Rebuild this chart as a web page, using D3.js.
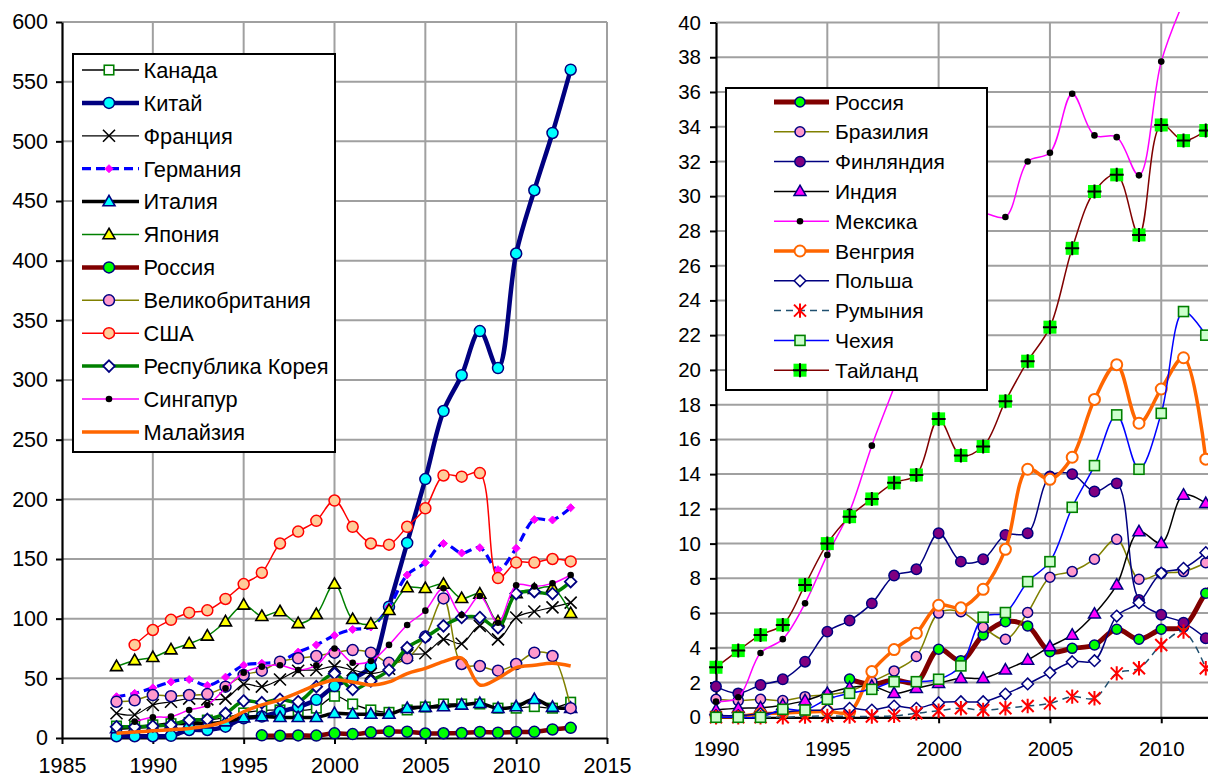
<!DOCTYPE html>
<html><head><meta charset="utf-8">
<script src="https://cdn.jsdelivr.net/npm/d3@7"></script>
<style>body{margin:0;background:#fff}svg{display:block}text{font-family:"Liberation Sans",Arial,sans-serif;fill:#000}</style>
</head><body><svg id="c" width="1208" height="778"></svg>
<script>
// ---------- DATA: left chart (1988-2013) ----------
const yearsL = [1988,1989,1990,1991,1992,1993,1994,1995,1996,1997,1998,1999,2000,2001,2002,2003,2004,2005,2006,2007,2008,2009,2010,2011,2012,2013];
const canada   = [10,10,11,12,13,15,17,21,23,23.5,23,25,35,28.5,23.5,21.5,23.5,26,28.5,28.5,28.5,25,25,26.3,25,30];
const china    = [1.5,1.5,1.5,1.8,6.7,6.7,9.5,16.5,18,22,26,32,43.5,50,60,110,163.5,217,274,304,341,310,406,459,507,560];
const france   = [20.7,19.5,27.7,30.4,33,32.4,33,45,43,49,56.4,57,60,57,54,58,69.5,71,82.7,79,94,82.7,101,106,109.5,113.4];
const germany  = [34.6,37.4,42,47,49,44,51,61,62.6,64,72,78,86,91,93,110,136.6,147,163,155,159.5,141,159,183,182.7,193];
const italy    = [8,9,10,12,12,12,13.7,17,18,17.3,17.3,17.3,20.7,20,20,20,24.9,25.8,26.3,27.7,29,24.9,26.3,32.4,25.8,25];
const japan    = [60,65,67.6,74,79,85.5,97.5,111.5,102,106,96,103.6,129,99.4,95.5,107,126,125.4,129,117,120.7,97.5,121,124.6,126,104.5];
const russia   = [null,null,null,null,null,null,null,null,2.2,1.9,2.15,2.0,3.92,3.26,4.74,5.5,5.26,3.78,3.97,4.16,5.07,4.49,5.07,5.2,7.14,8.5];
const uk       = [30.4,31.6,36,35,36,36.8,43,52.8,56.4,64,66.8,68.7,71.5,73.7,71.5,63,66.8,85,117,62,60.3,56.4,62,71.5,68.7,25];
const usa      = [null,78,90.5,99,105,107,116.5,129,138.5,163,173,182,199,177,163,162,177,192.5,220,219,222,134,147,147,150,148];
const korea    = [9.4,9.4,10,11,15,15.6,20.7,31,29.6,32.4,30.4,43,54,40.8,47.8,57,75.7,84.4,94,101,101,92.5,121,122.6,121,131];
const singapore= [null,13.7,17.3,17.9,23.4,27.6,41.6,54.7,59.8,61,57,61,75,63,64.5,78,94.7,106.7,125.4,103,119,96.6,128,127,129.6,136.6];
const malaysia = [4,5,6,7,8,10,14,22,27.7,32,38,44.4,48.6,47,44.4,47,54,58.4,64,67,44.4,50,59,61,62.6,60.3];
const yTicksL = [0,50,100,150,200,250,300,350,400,450,500,550,600];
const xTicksL = [1985,1990,1995,2000,2005,2010,2015];

// ---------- DATA: right chart (1990-2012) ----------
const yearsR = [1990,1991,1992,1993,1994,1995,1996,1997,1998,1999,2000,2001,2002,2003,2004,2005,2006,2007,2008,2009,2010,2011,2012];
const brazil   = [1.04,0.96,1.04,0.96,1.19,1.3,1.5,2.05,2.67,3.5,6.0,6.08,5.18,4.49,6.03,8.06,8.39,9.1,10.25,7.95,8.3,8.39,8.9];
const finland  = [1.77,1.38,1.86,2.19,3.2,4.93,5.57,6.56,8.16,8.52,10.6,8.96,9.1,10.5,10.6,13.86,14.0,13.0,13.47,6.76,5.9,5.45,4.55];
const india    = [0.42,0.52,0.55,0.7,0.96,1.38,1.7,1.8,1.38,1.67,1.96,2.25,2.25,2.73,3.3,4.07,4.74,5.95,7.62,10.69,10.02,12.8,12.32];
const mexico   = [0.9,1.15,3.7,4.5,6.56,9.35,11.85,15.64,19,22.5,26.5,28.5,29,28.8,32.0,32.5,35.9,33.5,33.4,31.2,37.75,41.2,44];
const hungary  = [0.05,0.05,0.2,0.25,0.3,0.35,0.3,2.63,3.9,4.84,6.45,6.3,7.37,9.67,14.28,13.7,14.97,18.3,20.3,16.93,18.9,20.7,14.86];
const poland   = [0.1,0.1,0.2,0.3,0.4,0.42,0.52,0.42,0.65,0.52,0.84,0.9,0.9,1.34,1.92,2.57,3.2,3.26,5.83,6.6,8.3,8.58,9.48];
const romania  = [0,0,0,0,0.05,0.08,0.05,0.05,0.08,0.23,0.38,0.52,0.42,0.52,0.65,0.8,1.19,1.1,2.53,2.82,4.16,4.93,2.82];
const czech    = [0,0,0,0.46,0.42,1.04,1.38,1.61,2.05,2.05,2.19,2.96,5.76,6.03,7.81,8.96,12.09,14.49,17.41,14.28,17.5,23.36,22.0];
const thailand = [2.88,3.84,4.74,5.32,7.62,10.0,11.55,12.57,13.5,13.95,17.18,15.07,15.59,18.2,20.5,22.46,27.0,30.27,31.23,27.77,34.1,33.2,33.78];
const yTicksR = [0,2,4,6,8,10,12,14,16,18,20,22,24,26,28,30,32,34,36,38,40];
const xTicksR = [1990,1995,2000,2005,2010];

// ---------- STYLES ----------
const NAVY='#000080';
const leftSeries = [
 {name:'Канада', years:yearsL, values:canada, color:'#000', width:1.3, marker:{type:'square', s:9.5, fill:'#fff', stroke:'#008000', sw:1.6}},
 {name:'Китай', years:yearsL, values:china, color:NAVY, width:4.5, marker:{type:'circle', r:5.5, fill:'#00ffff', stroke:NAVY, sw:1.5}},
 {name:'Франция', years:yearsL, values:france, color:'#000', width:1.2, marker:{type:'x', s:6, stroke:'#000', sw:1.6}},
 {name:'Германия', years:yearsL, values:germany, color:'#0000ff', width:3.2, dash:'9,5', marker:{type:'diamond', s:4, fill:'#ff00ff', stroke:'#ff00ff', sw:1}},
 {name:'Италия', years:yearsL, values:italy, color:'#000', width:3.5, marker:{type:'triangle', s:12, fill:'#00ffff', stroke:NAVY, sw:1.6}},
 {name:'Япония', years:yearsL, values:japan, color:'#008000', width:1.5, marker:{type:'triangle', s:12, fill:'#ffff00', stroke:'#000', sw:1.6}},
 {name:'Россия', years:yearsL, values:russia, color:'#800000', width:4.5, marker:{type:'circle', r:5.5, fill:'#00ff00', stroke:NAVY, sw:1.5}},
 {name:'Великобритания', years:yearsL, values:uk, color:'#808000', width:1.5, marker:{type:'circle', r:5.5, fill:'#ff99cc', stroke:NAVY, sw:1.5}},
 {name:'США', years:yearsL, values:usa, color:'#ff0000', width:1.5, marker:{type:'circle', r:5.5, fill:'#ffcc99', stroke:'#ff0000', sw:1.5}},
 {name:'Республика Корея', years:yearsL, values:korea, color:'#008000', width:3.5, marker:{type:'diamond', s:5.8, fill:'#fff', stroke:NAVY, sw:1.8}},
 {name:'Сингапур', years:yearsL, values:singapore, color:'#ff00ff', width:1.5, marker:{type:'dot', r:3.3, fill:'#000'}},
 {name:'Малайзия', years:yearsL, values:malaysia, color:'#ff6600', width:3.5, marker:null}
];
const rightSeries = [
 {name:'Россия', years:yearsL, values:russia, color:'#800000', width:5, marker:{type:'circle', r:5, fill:'#00ff00', stroke:NAVY, sw:1.5}},
 {name:'Бразилия', years:yearsR, values:brazil, color:'#808000', width:1.5, marker:{type:'circle', r:5, fill:'#ff99cc', stroke:NAVY, sw:1.5}},
 {name:'Финляндия', years:yearsR, values:finland, color:NAVY, width:1.5, marker:{type:'circle', r:5.2, fill:'#800080', stroke:NAVY, sw:1.5}},
 {name:'Индия', years:yearsR, values:india, color:'#000', width:1.5, marker:{type:'triangle', s:12, fill:'#ff00ff', stroke:NAVY, sw:1.5}},
 {name:'Мексика', years:yearsR, values:mexico, color:'#ff00ff', width:1.5, marker:{type:'dot', r:3.3, fill:'#000'}},
 {name:'Венгрия', years:yearsR, values:hungary, color:'#ff6600', width:3.5, marker:{type:'circle', r:5.5, fill:'#fff', stroke:'#ff6600', sw:2}},
 {name:'Польша', years:yearsR, values:poland, color:NAVY, width:1.5, marker:{type:'diamond', s:5.8, fill:'#fff', stroke:NAVY, sw:1.5}},
 {name:'Румыния', years:yearsR, values:romania, color:'#1f4f6f', width:1.5, dash:'7,5', marker:{type:'star', s:6, stroke:'#ff0000', sw:2}},
 {name:'Чехия', years:yearsR, values:czech, color:'#0000ff', width:1.5, marker:{type:'square', s:10, fill:'#ccffcc', stroke:'#008000', sw:1.6}},
 {name:'Тайланд', years:yearsR, values:thailand, color:'#800000', width:1.5, marker:{type:'plusSquare', s:13, fill:'#00ff00', stroke:'#000', sw:2}}
];

const svg = d3.select('#c');
const GRID='#a0a0a0';

function drawMarker(g, m, x, y){
  if(!m) return;
  const t=m.type;
  if(t==='circle'||t==='dot'){
    g.append('circle').attr('cx',x).attr('cy',y).attr('r',m.r).attr('fill',m.fill)
     .attr('stroke',m.stroke||'none').attr('stroke-width',m.sw||0);
  } else if(t==='square'){
    g.append('rect').attr('x',x-m.s/2).attr('y',y-m.s/2).attr('width',m.s).attr('height',m.s)
     .attr('fill',m.fill).attr('stroke',m.stroke).attr('stroke-width',m.sw);
  } else if(t==='plusSquare'){
    g.append('rect').attr('x',x-m.s/2).attr('y',y-m.s/2).attr('width',m.s).attr('height',m.s).attr('fill',m.fill);
    const a=m.s/2+0.5;
    g.append('path').attr('d',`M${x-a},${y}L${x+a},${y}M${x},${y-a}L${x},${y+a}`).attr('stroke',m.stroke).attr('stroke-width',m.sw);
  } else if(t==='triangle'){
    const s=m.s, h=s*0.87;
    g.append('path').attr('d',`M${x},${y-h*0.6}L${x+s/2},${y+h*0.4}L${x-s/2},${y+h*0.4}Z`)
     .attr('fill',m.fill).attr('stroke',m.stroke).attr('stroke-width',m.sw).attr('stroke-linejoin','miter');
  } else if(t==='diamond'){
    const s=m.s;
    g.append('path').attr('d',`M${x},${y-s}L${x+s},${y}L${x},${y+s}L${x-s},${y}Z`)
     .attr('fill',m.fill).attr('stroke',m.stroke).attr('stroke-width',m.sw);
  } else if(t==='x'){
    const s=m.s;
    g.append('path').attr('d',`M${x-s},${y-s}L${x+s},${y+s}M${x-s},${y+s}L${x+s},${y-s}`)
     .attr('stroke',m.stroke).attr('stroke-width',m.sw).attr('fill','none');
  } else if(t==='star'){
    const s=m.s;
    g.append('path').attr('d',`M${x-s},${y-s}L${x+s},${y+s}M${x-s},${y+s}L${x+s},${y-s}M${x},${y-s*1.2}L${x},${y+s*1.2}`)
     .attr('stroke',m.stroke).attr('stroke-width',m.sw).attr('fill','none');
  }
}

function drawSeries(g, s, x, y){
  const pts = s.years.map((yr,i)=>[yr, s.values[i]]).filter(d=>d[1]!=null);
  const line = d3.line().x(d=>x(d[0])).y(d=>y(d[1])).curve(d3.curveCatmullRom.alpha(0.5));
  g.append('path').attr('d',line(pts)).attr('fill','none').attr('stroke',s.color)
   .attr('stroke-width',s.width).attr('stroke-dasharray',s.dash||null).attr('stroke-linejoin','round');
  pts.forEach(d=>drawMarker(g, s.marker, x(d[0]), y(d[1])));
}

function drawChart(opt){
  const {x,y,xTicks,xGrid,yTicks,series,fs,xPad,yPad,legend,clip} = opt;
  const [x0,x1]=x.range(), [y0,y1]=y.range();
  const g = svg.append('g');
  // gridlines
  g.append('g').selectAll('line').data(yTicks.slice(1)).join('line')
    .attr('x1',x0).attr('x2',x1).attr('y1',d=>y(d)).attr('y2',d=>y(d))
    .attr('stroke',GRID).attr('stroke-width',2);
  g.append('g').selectAll('line').data(xGrid.slice(1)).join('line')
    .attr('x1',d=>x(d)).attr('x2',d=>x(d)).attr('y1',y0).attr('y2',y1)
    .attr('stroke',GRID).attr('stroke-width',2);
  // axes
  const ay = g.append('g').attr('transform',`translate(${x0},0)`)
    .call(d3.axisLeft(y).tickValues(yTicks).tickSize(6).tickPadding(yPad).tickSizeOuter(0));
  const ax = g.append('g').attr('transform',`translate(0,${y0})`)
    .call(d3.axisBottom(x).tickValues(xTicks).tickFormat(d3.format('d')).tickSize(6).tickPadding(xPad).tickSizeOuter(0));
  [ay,ax].forEach(a=>{
    a.select('.domain').attr('stroke','#000').attr('stroke-width',2.2);
    a.selectAll('.tick line').attr('stroke','#000').attr('stroke-width',2);
    a.selectAll('.tick text').attr('font-size',fs).attr('fill','#000')
      .attr('font-family','"Liberation Sans",Arial,sans-serif');
  });
  // series
  const sg = g.append('g');
  if(clip){
    svg.append('clipPath').attr('id',clip.id).append('rect')
      .attr('x',clip.x).attr('y',clip.y).attr('width',clip.w).attr('height',clip.h);
    sg.attr('clip-path',`url(#${clip.id})`);
  }
  series.forEach(s=>drawSeries(sg.append('g'), s, x, y));
  // legend
  const L = legend;
  const lg = g.append('g');
  lg.append('rect').attr('x',L.x).attr('y',L.y).attr('width',L.w).attr('height',L.h)
    .attr('fill','#fff').attr('stroke','#000').attr('stroke-width',2);
  series.forEach((s,i)=>{
    const yy = L.first + i*L.step;
    const e = lg.append('g');
    e.append('line').attr('x1',L.l1).attr('x2',L.l2).attr('y1',yy).attr('y2',yy)
      .attr('stroke',s.color).attr('stroke-width',s.width).attr('stroke-dasharray',s.dash||null);
    drawMarker(e, s.marker, L.mx, yy);
    e.append('text').attr('x',L.tx).attr('y',yy).attr('dy','0.36em').attr('font-size',L.fs).text(s.name);
  });
}

drawChart({
  x: d3.scaleLinear().domain([1985,2015]).range([62,607]),
  y: d3.scaleLinear().domain([0,600]).range([738,22]),
  xTicks:xTicksL, xGrid:xTicksL, yTicks:yTicksL, series:leftSeries, fs:21.5, xPad:14, yPad:8,
  legend:{x:73,y:54,w:262,h:398,first:70,step:32.9,l1:82,l2:139,mx:109,tx:143.5,fs:21.8}
});
drawChart({
  x: d3.scaleLinear().domain([1990,2012.1]).range([716,1208]),
  y: d3.scaleLinear().domain([0,40]).range([717.3,22.5]),
  xTicks:xTicksR, xGrid:xTicksR, yTicks:yTicksR, series:rightSeries, fs:20.5, xPad:18, yPad:9,
  legend:{x:726,y:88,w:261,h:302,first:102,step:29.8,l1:774,l2:829,mx:800,tx:835,fs:21},
  clip:{id:'clipR',x:690,y:12,w:530,h:770}
});
</script></body></html>
